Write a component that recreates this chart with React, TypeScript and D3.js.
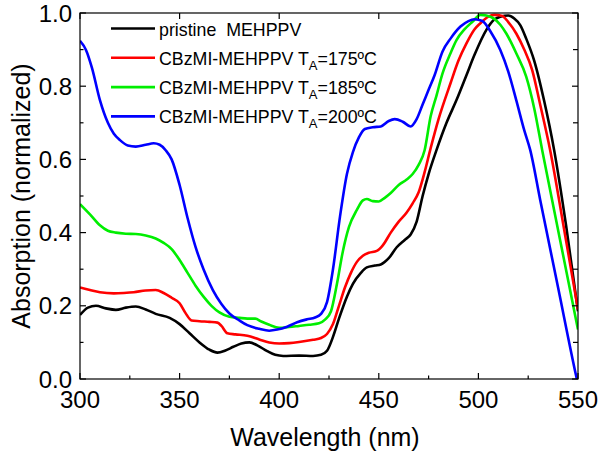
import React from "react";
import * as d3 from "d3";

const wlBlack = [300,304,308,313,318,323,328,333,338,345,350,355,360,365,369,373,377,381,385,389,394,398,402,410,417,421,424,427,430,434,437,441,444,448,451,455,459,463,466,469,472,475,479,484,489,494,498,504,508,511,515,518,521,524,528,533,538,544,550];
const absBlack = [0.175,0.195,0.2,0.193,0.189,0.195,0.198,0.19,0.178,0.167,0.15,0.125,0.1,0.08,0.072,0.078,0.088,0.097,0.1,0.092,0.076,0.066,0.063,0.064,0.063,0.066,0.077,0.115,0.165,0.225,0.26,0.29,0.305,0.31,0.313,0.33,0.36,0.38,0.395,0.43,0.5,0.56,0.626,0.7,0.762,0.83,0.885,0.954,0.982,0.99,0.993,0.985,0.967,0.93,0.87,0.76,0.626,0.42,0.185];

const wlRed = [300,305,310,317,322,327,333,338,342,346,350,353,356,360,365,369,371,374,378,384,390,395,400,405,410,417,421,424,427,430,433,436,439,442,445,449,452,456,460,464,467,470,473,476,480,486,490,494,498,501,505,508,512,515,519,523,527,531,536,543,550];
const absRed = [0.25,0.243,0.237,0.234,0.235,0.237,0.242,0.243,0.235,0.222,0.207,0.18,0.16,0.158,0.156,0.154,0.145,0.125,0.122,0.118,0.108,0.1,0.097,0.098,0.101,0.107,0.112,0.123,0.15,0.2,0.25,0.29,0.32,0.337,0.345,0.35,0.365,0.4,0.43,0.455,0.48,0.51,0.565,0.63,0.71,0.808,0.87,0.917,0.955,0.972,0.99,0.995,0.992,0.975,0.944,0.9,0.844,0.75,0.626,0.41,0.19];

const wlGreen = [300,305,310,314,318,323,328,333,338,342,346,350,354,358,362,366,370,375,380,384,388,391,395,400,405,410,415,420,423,426,429,432,435,439,442,444,447,450,453,456,460,464,467,470,473,476,479,482,486,489,493,497,501,504,508,511,514,519,524,528,532,541,550];
const absGreen = [0.478,0.45,0.42,0.405,0.4,0.397,0.396,0.392,0.384,0.372,0.355,0.325,0.29,0.255,0.225,0.2,0.182,0.17,0.167,0.165,0.165,0.157,0.148,0.14,0.142,0.145,0.148,0.152,0.162,0.185,0.26,0.35,0.415,0.462,0.488,0.492,0.486,0.485,0.495,0.508,0.53,0.545,0.56,0.585,0.625,0.717,0.775,0.835,0.89,0.926,0.955,0.976,0.995,0.993,0.984,0.968,0.944,0.89,0.826,0.74,0.626,0.38,0.135];

const wlBlue = [300,303,306,310,314,317,320,324,328,333,337,340,343,346,350,354,358,362,366.7,371,375,380,384,390,395,399,404,409,414,418,421,424,427,430.5,434,437,440,443,447,451,455,458,462,466,469,472,475,478,482,486,491,495,498,502,506,511,515,519,523,526,531,540,549,550];
const absBlue = [0.924,0.899,0.85,0.762,0.7,0.67,0.653,0.638,0.635,0.64,0.644,0.64,0.625,0.6,0.53,0.44,0.361,0.3,0.243,0.205,0.179,0.16,0.147,0.137,0.132,0.135,0.143,0.155,0.163,0.168,0.178,0.21,0.3,0.443,0.56,0.62,0.66,0.683,0.688,0.69,0.705,0.71,0.703,0.69,0.71,0.75,0.79,0.83,0.895,0.93,0.963,0.978,0.983,0.978,0.95,0.899,0.84,0.762,0.68,0.626,0.49,0.25,0.01,-0.015];

const seriesNames = ["pristine  MEHPPV", "CBzMI-MEHPPV T", "CBzMI-MEHPPV T", "CBzMI-MEHPPV T"];
const seriesTemps = ["", "=175ºC", "=185ºC", "=200ºC"];
const seriesColors = ["#000000", "#ff0000", "#00ee00", "#0000ff"];
const seriesWl = [wlBlack, wlRed, wlGreen, wlBlue];
const seriesAbs = [absBlack, absRed, absGreen, absBlue];

const xMajor = [300, 350, 400, 450, 500, 550];
const xMinor = [325, 375, 425, 475, 525];
const yMajor = [0.0, 0.2, 0.4, 0.6, 0.8, 1.0];
const yMinor = [0.1, 0.3, 0.5, 0.7, 0.9];

const FONT = "'Liberation Sans', Arial, Helvetica, sans-serif";

export default function App() {
  const W = 600, H = 454;
  const L = 80, R = 578, T = 13, B = 379;
  const x = d3.scaleLinear().domain([300, 550]).range([L, R]);
  const y = d3.scaleLinear().domain([0, 1]).range([B, T]);
  const line = d3.line<[number, number]>().x(d => x(d[0])).y(d => y(d[1])).curve(d3.curveMonotoneX);

  return (
    <svg width={W} height={H} style={{ position: "absolute", left: 0, top: 0, background: "#fff" }} fontFamily={FONT}>
      <defs>
        <clipPath id="plotclip">
          <rect x={L} y={T - 2} width={R - L} height={B - T + 2} />
        </clipPath>
      </defs>
      <g clipPath="url(#plotclip)">
        {seriesWl.map((wl, i) => {
          const pts = wl.map((w, j) => [w, seriesAbs[i][j]] as [number, number]);
          return <path key={i} d={line(pts) || ""} fill="none" stroke={seriesColors[i]} strokeWidth={2.6} strokeLinejoin="round" />;
        })}
      </g>
      <rect x={L} y={T} width={R - L} height={B - T} fill="none" stroke="#000" strokeWidth={1.2} />
      {xMajor.map(v => (
        <g key={"xm" + v}>
          <line x1={x(v)} x2={x(v)} y1={B} y2={B - 6} stroke="#000" strokeWidth={1.2} />
          <line x1={x(v)} x2={x(v)} y1={T} y2={T + 6} stroke="#000" strokeWidth={1.2} />
          <text x={x(v)} y={408} textAnchor="middle" fontSize={24}>{v}</text>
        </g>
      ))}
      {xMinor.map(v => (
        <line key={"xn" + v} x1={x(v)} x2={x(v)} y1={B} y2={B - 3.5} stroke="#000" strokeWidth={1.2} />
      ))}
      {yMajor.map(v => (
        <g key={"ym" + v}>
          <line x1={L} x2={L + 6} y1={y(v)} y2={y(v)} stroke="#000" strokeWidth={1.2} />
          <line x1={R} x2={R - 6} y1={y(v)} y2={y(v)} stroke="#000" strokeWidth={1.2} />
          <text x={72} y={y(v) + 8.5} textAnchor="end" fontSize={24}>{v.toFixed(1)}</text>
        </g>
      ))}
      {yMinor.map(v => (
        <g key={"yn" + v}>
          <line x1={L} x2={L + 3.5} y1={y(v)} y2={y(v)} stroke="#000" strokeWidth={1.2} />
          <line x1={R} x2={R - 5} y1={y(v)} y2={y(v)} stroke="#000" strokeWidth={1.2} />
        </g>
      ))}
      <text x={325} y={446} textAnchor="middle" fontSize={25}>Wavelength (nm)</text>
      <text transform={`translate(30,${(T + B) / 2}) rotate(-90)`} textAnchor="middle" fontSize={25}>Absorption (normalized)</text>
      {seriesNames.map((n, i) => {
        const ly = 28.5 + i * 29.3;
        return (
          <g key={"lg" + i}>
            <line x1={111} x2={155} y1={ly} y2={ly} stroke={seriesColors[i]} strokeWidth={2.6} />
            <text x={159} y={ly + 7} fontSize={17.8} style={{ whiteSpace: "pre" }}>
              {n}
              {seriesTemps[i] ? <tspan fontSize={13} dy={5}>A</tspan> : null}
              {seriesTemps[i] ? <tspan dy={-5}>{seriesTemps[i]}</tspan> : null}
            </text>
          </g>
        );
      })}
    </svg>
  );
}
